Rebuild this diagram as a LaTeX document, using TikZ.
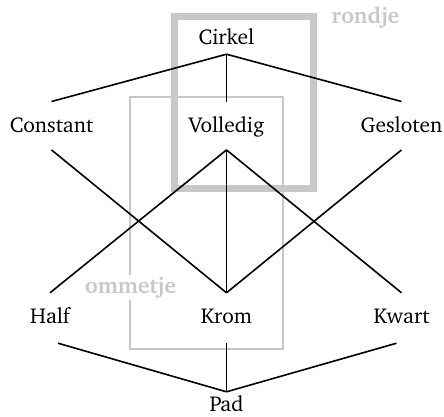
\documentclass[tikz,border=0pt]{standalone}
\usepackage[T1]{fontenc}
\usepackage{charter}
\usetikzlibrary{calc}
\definecolor{boxgray}{RGB}{200,200,200}
\tikzset{
  lbl/.style={inner sep=0pt, anchor=base, font=\fontsize{21.5}{25}\selectfont},
  conn/.style={draw=black, line width=1.6pt},
  tag/.style={anchor=base, font=\fontsize{22.5}{26}\selectfont\bfseries, text=boxgray},
}
\begin{document}
\begin{tikzpicture}[x=1pt,y=-1pt]
\useasboundingbox (0,0) rectangle (444,416);
% gray boxes
\draw[boxgray, line width=2.4pt] (130,97) rectangle (283,349);
\draw[boxgray, line width=7pt] (174,16) rectangle (313,188);
\node[tag, anchor=base west] (rondje) at (328,23) {rondje};
\node[tag, fill=white, inner xsep=1pt, inner ysep=2pt] (ommetje) at (130.5,293) {ommetje};
% nodes
\node[lbl, text height=14pt, text depth=10pt] (cirkel) at (226.5,44) {Cirkel};
\node[lbl, text height=31pt, text depth=17pt] (constant) at (51.5,132.7) {Constant};
\node[lbl, text height=31pt, text depth=17pt] (volledig) at (226.5,132.7) {Volledig};
\node[lbl, text height=31pt, text depth=17pt] (gesloten) at (401.5,132.7) {Gesloten};
\node[lbl, text height=30pt, text depth=20pt] (half) at (50,323) {Half};
\node[lbl, text height=30pt, text depth=20pt] (krom) at (226.5,323) {Krom};
\node[lbl, text height=30pt, text depth=20pt] (kwart) at (401.5,323) {Kwart};
\node[lbl, text height=19pt, text depth=5pt] (pad) at (226.5,411) {Pad};
% connectors
\draw[conn] (cirkel.south) -- (constant.north);
\draw[conn] (cirkel.south) -- (volledig.north);
\draw[conn] (cirkel.south) -- (gesloten.north);
\draw[conn] (constant.south) -- (krom.north);
\draw[conn] (gesloten.south) -- (krom.north);
\draw[conn] (volledig.south) -- (half.north);
\draw[conn] (volledig.south) -- (krom.north);
\draw[conn] (volledig.south) -- (kwart.north);
\draw[conn] ($(half.south)+(8,0)$) -- (pad.north);
\draw[conn] (krom.south) -- (pad.north);
\draw[conn] ($(kwart.south)+(-5,0)$) -- (pad.north);
\end{tikzpicture}
\end{document}
